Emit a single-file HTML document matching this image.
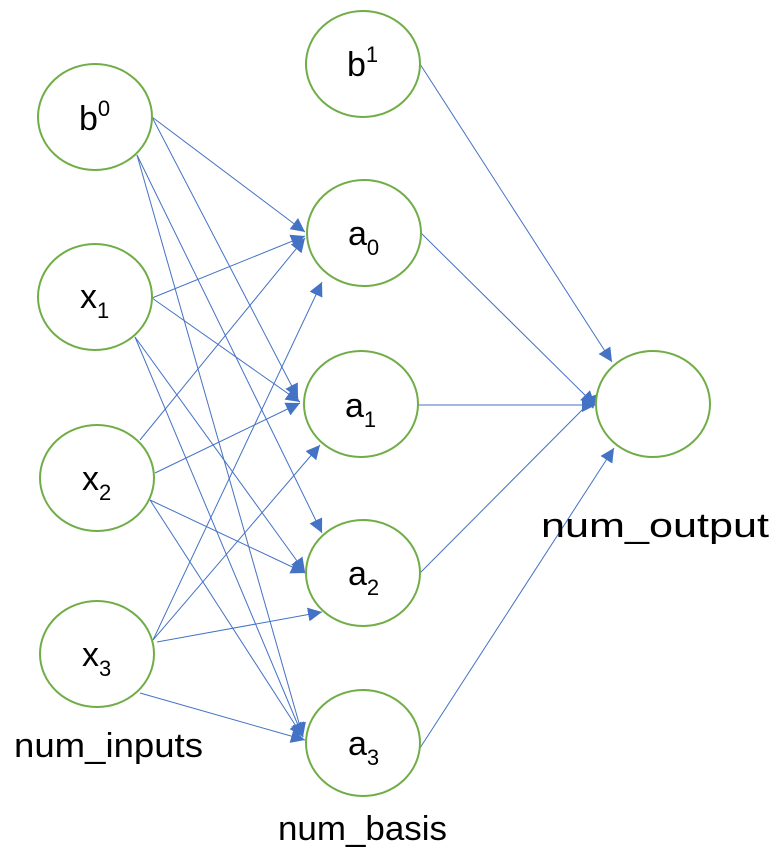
<!DOCTYPE html>
<html><head><meta charset="utf-8"><style>
html,body{margin:0;padding:0;background:#fff;}
svg{display:block;font-family:"Liberation Sans",sans-serif;}
</style></head><body>
<svg width="780" height="864" viewBox="0 0 780 864" xmlns="http://www.w3.org/2000/svg">
<defs>
<marker id="ar" viewBox="0 0 10 10" refX="10" refY="5" markerWidth="14" markerHeight="14" markerUnits="userSpaceOnUse" orient="auto">
<path d="M0,0 L10,5 L0,10 z" fill="#4472C4"/>
</marker>
</defs>
<g stroke="#4472C4" stroke-width="1" fill="none" marker-end="url(#ar)">
<line x1="152" y1="117" x2="305" y2="232"/>
<line x1="152" y1="117" x2="298" y2="398"/>
<line x1="137" y1="155" x2="322" y2="533"/>
<line x1="137" y1="155" x2="303" y2="737"/>
<line x1="152" y1="298" x2="305" y2="236"/>
<line x1="152" y1="298" x2="300" y2="402"/>
<line x1="135" y1="337" x2="305" y2="572"/>
<line x1="135" y1="337" x2="303" y2="737"/>
<line x1="140" y1="440" x2="305" y2="238"/>
<line x1="155" y1="473" x2="300" y2="403"/>
<line x1="150" y1="500" x2="305" y2="573"/>
<line x1="150" y1="500" x2="303" y2="737"/>
<line x1="153" y1="640" x2="322" y2="282"/>
<line x1="153" y1="640" x2="320" y2="445"/>
<line x1="157" y1="642" x2="322" y2="612"/>
<line x1="140" y1="693" x2="305" y2="740"/>
<line x1="420" y1="64" x2="612" y2="362"/>
<line x1="421" y1="233" x2="595" y2="405"/>
<line x1="415" y1="405" x2="596" y2="405"/>
<line x1="420" y1="573" x2="598" y2="394"/>
<line x1="420" y1="748" x2="614" y2="448"/>
</g>
<g fill="#fff" stroke="#70AD47" stroke-width="2">
<ellipse cx="95" cy="117" rx="57" ry="53"/>
<ellipse cx="95" cy="297" rx="57" ry="53"/>
<ellipse cx="97" cy="478" rx="57" ry="53"/>
<ellipse cx="97" cy="654" rx="57" ry="53"/>
<ellipse cx="363" cy="64" rx="57" ry="53"/>
<ellipse cx="364" cy="233" rx="57" ry="53"/>
<ellipse cx="361" cy="404" rx="57" ry="53"/>
<ellipse cx="363" cy="573" rx="57" ry="53"/>
<ellipse cx="363" cy="743" rx="57" ry="53"/>
<ellipse cx="653" cy="404" rx="57" ry="53"/>
</g>
<g fill="#000" font-size="34">
<text x="79" y="130">b<tspan font-size="22" dy="-14">0</tspan></text>
<text x="80" y="308">x<tspan font-size="22" dy="10">1</tspan></text>
<text x="82" y="490">x<tspan font-size="22" dy="10">2</tspan></text>
<text x="82" y="666">x<tspan font-size="22" dy="10">3</tspan></text>
<text x="347" y="76">b<tspan font-size="22" dy="-14">1</tspan></text>
<text x="348" y="245">a<tspan font-size="22" dy="10">0</tspan></text>
<text x="345" y="417">a<tspan font-size="22" dy="10">1</tspan></text>
<text x="348" y="585">a<tspan font-size="22" dy="10">2</tspan></text>
<text x="348" y="755">a<tspan font-size="22" dy="10">3</tspan></text>
<text x="14" y="757" textLength="189" lengthAdjust="spacingAndGlyphs">num_inputs</text>
<text x="278" y="840" textLength="169" lengthAdjust="spacingAndGlyphs">num_basis</text>
<text x="541" y="537" textLength="228" lengthAdjust="spacingAndGlyphs">num_output</text>
</g>
</svg>
</body></html>
